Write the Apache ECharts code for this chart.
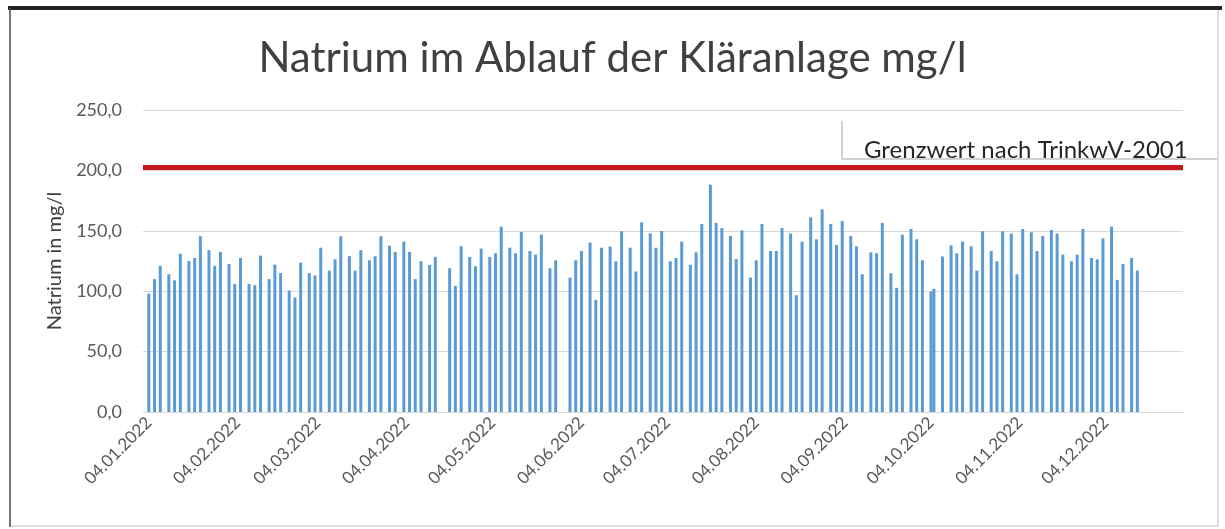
<!DOCTYPE html>
<html>
<head>
<meta charset="utf-8">
<script src="https://cdn.jsdelivr.net/npm/echarts@6/dist/echarts.min.js"></script>
<style>
html,body{margin:0;padding:0;background:#fff;}
#chart{width:1225px;height:529px;}
</style>
</head>
<body>
<div id="chart"></div>
<script>
// ---- data ----
const chartTitle = 'Natrium im Ablauf der Kläranlage mg/l';
const yAxisTitle = 'Natrium in mg/l';
const limitLabel = 'Grenzwert nach TrinkwV-2001';
const limitValue = 203;

const sampleDates = [
 '2022-01-04','2022-01-06','2022-01-08','2022-01-11','2022-01-13','2022-01-15','2022-01-18','2022-01-20','2022-01-22','2022-01-25','2022-01-27','2022-01-29',
 '2022-02-01','2022-02-03','2022-02-05','2022-02-08','2022-02-10','2022-02-12','2022-02-15','2022-02-17','2022-02-19','2022-02-22','2022-02-24','2022-02-26',
 '2022-03-01','2022-03-03','2022-03-05','2022-03-08','2022-03-10','2022-03-12','2022-03-15','2022-03-17','2022-03-19','2022-03-22','2022-03-24','2022-03-26','2022-03-29','2022-03-31',
 '2022-04-03','2022-04-05','2022-04-07','2022-04-09','2022-04-12','2022-04-14','2022-04-19','2022-04-21','2022-04-23','2022-04-26','2022-04-28','2022-04-30',
 '2022-05-03','2022-05-05','2022-05-07','2022-05-10','2022-05-12','2022-05-14','2022-05-17','2022-05-19','2022-05-21','2022-05-24','2022-05-26','2022-05-31',
 '2022-06-02','2022-06-04','2022-06-07','2022-06-09','2022-06-11','2022-06-14','2022-06-16','2022-06-18','2022-06-21','2022-06-23','2022-06-25','2022-06-28','2022-06-30',
 '2022-07-02','2022-07-05','2022-07-07','2022-07-09','2022-07-12','2022-07-14','2022-07-16','2022-07-19','2022-07-21','2022-07-23','2022-07-26','2022-07-28','2022-07-30',
 '2022-08-02','2022-08-04','2022-08-06','2022-08-09','2022-08-11','2022-08-13','2022-08-16','2022-08-18','2022-08-20','2022-08-23','2022-08-25','2022-08-27','2022-08-30',
 '2022-09-01','2022-09-03','2022-09-06','2022-09-08','2022-09-10','2022-09-13','2022-09-15','2022-09-17','2022-09-20','2022-09-22','2022-09-24','2022-09-27','2022-09-29',
 '2022-10-01','2022-10-04','2022-10-05','2022-10-08','2022-10-11','2022-10-13','2022-10-15','2022-10-18','2022-10-20','2022-10-22','2022-10-25','2022-10-27','2022-10-29',
 '2022-11-01','2022-11-03','2022-11-05','2022-11-08','2022-11-10','2022-11-12','2022-11-15','2022-11-17','2022-11-19','2022-11-22','2022-11-24','2022-11-26','2022-11-29',
 '2022-12-01','2022-12-03','2022-12-06','2022-12-08','2022-12-10','2022-12-13','2022-12-15'
];

const natriumValues = [
 98,110,121,114,109,131,125,127.5,145.5,134,121,132.5,
 122.6,106,127.5,106,105,129.5,110,122,115,100.6,94.8,123.7,
 115,113,136,117,126.4,145.5,129,117,134,125.6,129,145.5,137.7,132.5,
 141,132.5,110,124.8,121.8,128.4,119,104.4,137.2,128.4,120.7,135.3,
 128.4,131.4,153.4,136,131.4,149,133.3,130.3,146.8,119,125.6,111.3,
 125.6,133.3,140.2,92.8,136,136.9,124.8,149.6,136,116.3,157,147.9,136,
 149.9,124.8,127.5,141,121.8,132.2,155.6,188.2,156.5,152.3,145.7,126.7,150.4,
 111.3,125.6,155.6,133.3,133.3,152.3,147.7,96.7,141,161.2,143,167.8,155.6,
 138.3,158.1,145.7,137.2,114,132.2,131.4,156.5,114.9,102.8,146.8,151.5,143,
 125.6,99.7,101.9,128.7,138,131.4,141,137.2,117.1,149.6,133.3,124.8,149.6,
 147.7,114,151.5,148.8,133.3,145.7,150.7,147.7,130.3,124.8,130.3,151.5,127.5,
 126.4,143.8,153.4,109.4,122.6,127.5,117.1
];

const tickDates = ['2022-01-04','2022-02-04','2022-03-04','2022-04-04','2022-05-04','2022-06-04',
                   '2022-07-04','2022-08-04','2022-09-04','2022-10-04','2022-11-04','2022-12-04'];
const axisStart = '2022-01-02T12:00:00';
const axisEnd = '2022-12-30T10:00:00';
const yTicks = [0, 50, 100, 150, 200, 250];

// ---- chart ----
const toTs = s => new Date(s.length === 10 ? s + 'T00:00:00' : s).getTime();
const seriesData = sampleDates.map((d, i) => [toTs(d), natriumValues[i]]);
const FONT = 'Lato, "Open Sans", sans-serif';

const chart = echarts.init(document.getElementById('chart'), null, {renderer: 'canvas'});
chart.setOption({
  backgroundColor: '#ffffff',
  animation: false,
  title: [
    {
      text: chartTitle, left: 'center', top: 32,
      textStyle: {fontFamily: FONT, fontSize: 42, fontWeight: 'normal', color: '#404040'}
    },
    {
      text: limitLabel, left: 859, top: 133,
      textStyle: {fontFamily: FONT, fontSize: 24, fontWeight: 'normal', color: '#262626'}
    }
  ],
  graphic: [
    {type: 'rect', shape: {x: 10, y: 9, width: 1208, height: 517}, style: {fill: 'none', stroke: '#bfbfbf', lineWidth: 1}, silent: true},
    {type: 'line', shape: {x1: 8, y1: 8, x2: 1222, y2: 8}, style: {stroke: '#222', lineWidth: 4}, silent: true},
    {type: 'line', shape: {x1: 10, y1: 8, x2: 10, y2: 527}, style: {stroke: '#555', lineWidth: 1.5}, silent: true},
    {type: 'line', shape: {x1: 842, y1: 121, x2: 842, y2: 159}, style: {stroke: '#a6a6a6', lineWidth: 1}, silent: true},
    {type: 'line', shape: {x1: 842, y1: 159, x2: 1217, y2: 159}, style: {stroke: '#a6a6a6', lineWidth: 1}, silent: true}
  ],
  grid: {left: 143, right: 42, top: 110, bottom: 117, containLabel: false},
  xAxis: {
    type: 'time',
    min: toTs(axisStart),
    max: toTs(axisEnd),
    axisLine: {show: true, lineStyle: {color: '#d9d9d9', width: 1}},
    axisTick: {show: false},
    splitLine: {show: false},
    axisLabel: {
      customValues: tickDates.map(toTs),
      rotate: 45,
      margin: 8,
      hideOverlap: false,
      fontFamily: FONT, fontSize: 17, color: '#595959',
      formatter: '{dd}.{MM}.{yyyy}'
    }
  },
  yAxis: {
    type: 'value',
    min: yTicks[0], max: yTicks[yTicks.length - 1], interval: 50,
    name: yAxisTitle,
    nameLocation: 'middle',
    nameRotate: 90,
    nameGap: 78,
    nameTextStyle: {fontFamily: FONT, fontSize: 20, color: '#404040'},
    axisLine: {show: false},
    axisTick: {show: false},
    axisLabel: {
      margin: 21, fontFamily: FONT, fontSize: 18, color: '#595959',
      formatter: v => v.toFixed(1).replace('.', ',')
    },
    splitLine: {lineStyle: {color: '#d9d9d9', width: 1}}
  },
  series: [{
    type: 'bar',
    data: seriesData,
    barWidth: 3,
    itemStyle: {color: '#5b9bd5'},
    markLine: {
      silent: true,
      symbol: ['none', 'none'],
      label: {show: false},
      lineStyle: {color: '#c4161c', width: 5, type: 'solid'},
      data: [{yAxis: limitValue}]
    }
  }]
});
</script>
</body>
</html>
